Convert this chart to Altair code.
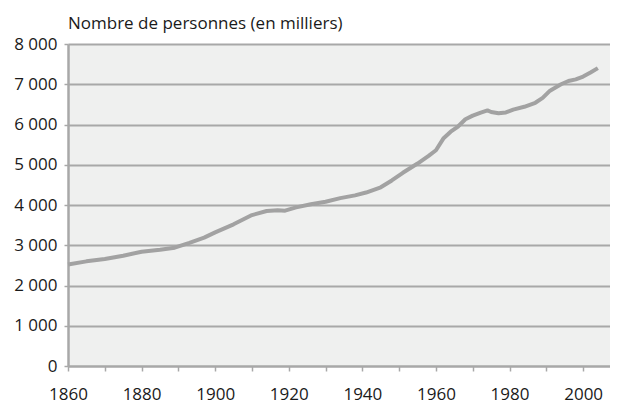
import altair as alt
import pandas as pd

years = [1860, 1865, 1870, 1875, 1880, 1885, 1889, 1893, 1897, 1900,
         1905, 1910, 1914, 1917, 1919, 1922, 1926, 1930, 1934, 1938,
         1941, 1945, 1948, 1951, 1955, 1958, 1960, 1962, 1964, 1966,
         1968, 1970, 1972, 1974, 1975, 1977, 1979, 1981, 1984, 1987,
         1989, 1991, 1994, 1996, 1998, 2000, 2002, 2004]
values = [2520, 2600, 2660, 2740, 2840, 2890, 2940, 3060, 3190, 3320,
          3520, 3750, 3850, 3870, 3860, 3940, 4020, 4080, 4170, 4240,
          4310, 4440, 4610, 4800, 5030, 5220, 5360, 5650, 5820, 5950,
          6130, 6220, 6290, 6350, 6310, 6280, 6300, 6370, 6440, 6540,
          6660, 6840, 7000, 7080, 7120, 7190, 7290, 7400]

x_ticks = [1860, 1870, 1880, 1890, 1900, 1910, 1920, 1930, 1940, 1950,
           1960, 1970, 1980, 1990, 2000]
y_ticks = [0, 1000, 2000, 3000, 4000, 5000, 6000, 7000, 8000]
title_text = "Nombre de personnes (en milliers)"

df = pd.DataFrame({"annee": years, "valeur": values})

FONT = "Open Sans"
GRID = "#a8a8a8"

chart = alt.Chart(df).mark_line(
    color="#a2a2a2", strokeWidth=4, strokeJoin="round", strokeCap="butt"
).encode(
    x=alt.X("annee:Q",
            scale=alt.Scale(domain=[1860, 2007.3], nice=False, zero=False),
            axis=alt.Axis(values=x_ticks, title=None, grid=False,
                          labelExpr="datum.value % 20 == 0 ? datum.label : ''",
                          format="d", tickSize=5, tickColor=GRID, tickWidth=1.5,
                          domainColor=GRID, domainWidth=2,
                          labelFont=FONT, labelFontSize=17, labelColor="#1a1a1a",
                          labelPadding=15, labelFlush=False)),
    y=alt.Y("valeur:Q",
            scale=alt.Scale(domain=[0, 8000], nice=False),
            axis=alt.Axis(values=y_ticks, title=None, grid=True,
                          gridColor=GRID, gridWidth=2,
                          labelExpr="replace(format(datum.value, ','), ',', ' ')",
                          tickSize=4, tickColor=GRID, tickWidth=1.5,
                          domainColor=GRID, domainWidth=2.5,
                          labelFont=FONT, labelFontSize=17, labelColor="#1a1a1a",
                          labelPadding=7)),
).properties(
    width=542,
    height=322,
    autosize=alt.AutoSizeParams(type="none"),
    padding={"left": 60, "top": 36, "right": 0, "bottom": 37},
    title=alt.TitleParams(text=title_text, anchor="start", frame="group",
                          font=FONT, fontSize=17, fontWeight="normal",
                          color="#1a1a1a", offset=2),
).configure_view(
    fill="#eff0ef", stroke=None
)

chart.save("out.html", embed_options={"renderer": "svg", "actions": False})
